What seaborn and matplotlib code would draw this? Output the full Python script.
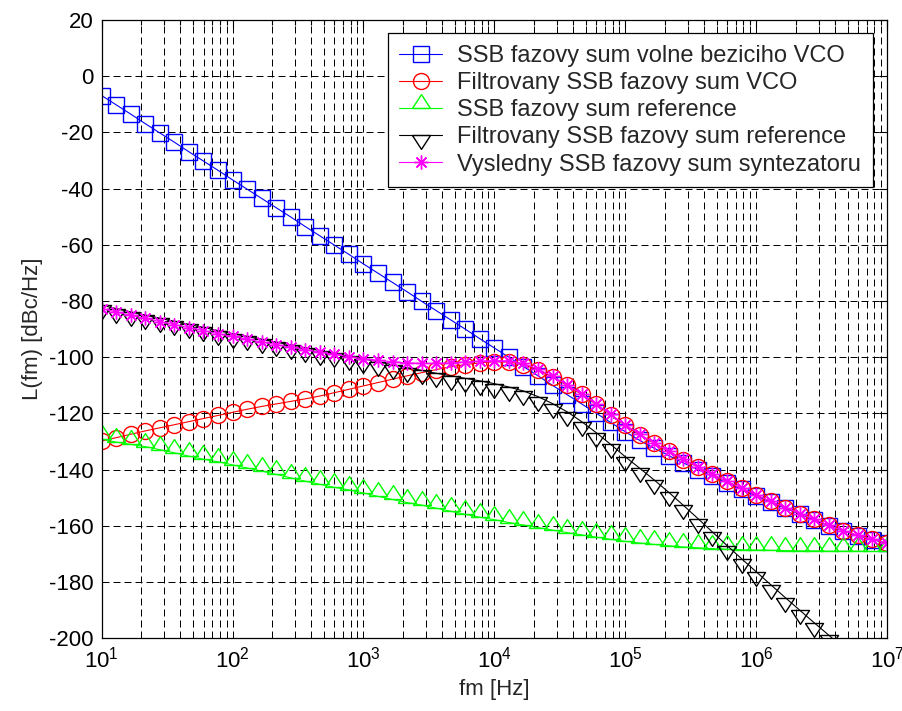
import matplotlib
matplotlib.use("Agg")
import matplotlib.pyplot as plt
import matplotlib.ticker as mticker
import seaborn as sns

# offset frequencies [Hz], 9 points per decade
freq_hz = [
    1.0000e1, 1.2915e1, 1.6681e1, 2.1544e1, 2.7826e1, 3.5938e1, 4.6416e1, 5.9948e1, 7.7426e1,
    1.0000e2, 1.2915e2, 1.6681e2, 2.1544e2, 2.7826e2, 3.5938e2, 4.6416e2, 5.9948e2, 7.7426e2,
    1.0000e3, 1.2915e3, 1.6681e3, 2.1544e3, 2.7826e3, 3.5938e3, 4.6416e3, 5.9948e3, 7.7426e3,
    1.0000e4, 1.2915e4, 1.6681e4, 2.1544e4, 2.7826e4, 3.5938e4, 4.6416e4, 5.9948e4, 7.7426e4,
    1.0000e5, 1.2915e5, 1.6681e5, 2.1544e5, 2.7826e5, 3.5938e5, 4.6416e5, 5.9948e5, 7.7426e5,
    1.0000e6, 1.2915e6, 1.6681e6, 2.1544e6, 2.7826e6, 3.5938e6, 4.6416e6, 5.9948e6, 7.7426e6,
    1.0000e7,
]

vco_free = [
    -6.9, -10.2, -13.5, -16.9, -20.2, -23.5, -26.9, -30.2, -33.5,
    -36.9, -40.2, -43.5, -46.8, -50.1, -53.5, -56.8, -60.1, -63.4,
    -66.8, -70.1, -73.4, -76.7, -80.1, -83.4, -86.7, -90.0, -93.4,
    -96.7, -100.0, -103.3, -106.6, -110.0, -113.3, -116.6, -119.9, -123.2,
    -126.5, -129.6, -132.4, -135.0, -137.6, -140.0, -142.4, -144.7, -147.0,
    -149.3, -151.5, -153.7, -155.8, -157.9, -159.9, -161.9, -163.5, -164.9,
    -166.2,
]

vco_filtered = [
    -129.8, -128.6, -127.4, -126.2, -125.1, -124.0, -122.9, -121.8, -120.7,
    -119.6, -118.5, -117.5, -116.6, -115.7, -114.8, -113.8, -112.6, -111.4,
    -110.2, -109.0, -107.8, -106.6, -105.5, -104.4, -103.4, -102.6, -102.0,
    -101.6, -101.7, -102.6, -104.5, -107.0, -110.0, -113.2, -116.8, -120.5,
    -124.2, -127.6, -130.6, -133.5, -136.4, -139.1, -141.7, -144.2, -146.6,
    -149.0, -151.3, -153.5, -155.6, -157.7, -159.8, -161.8, -163.4, -164.8,
    -166.1,
]

ref_noise = [
    -129.1, -130.2, -131.0, -131.8, -132.9, -134.0, -135.2, -136.3, -137.2,
    -138.3, -139.4, -140.5, -141.7, -142.9, -144.1, -145.2, -146.3, -147.2,
    -148.3, -149.5, -150.6, -151.7, -152.6, -153.7, -154.8, -155.9, -156.9,
    -157.8, -158.8, -159.7, -160.6, -161.5, -162.4, -163.2, -164.0, -164.8,
    -165.5, -166.1, -166.6, -167.1, -167.5, -167.8, -168.1, -168.3, -168.5,
    -168.6, -168.7, -168.8, -168.9, -168.9, -169.0, -169.0, -169.0, -169.1,
    -169.1,
]

# filtered reference runs out of the plot below -200 dBc/Hz
ref_filtered = [
    -81.5, -82.7, -83.9, -85.0, -86.1, -87.2, -88.3, -89.4, -90.5,
    -91.6, -92.6, -93.6, -94.6, -95.6, -96.6, -97.6, -98.6, -99.6,
    -100.5, -101.6, -102.7, -103.7, -104.7, -105.7, -106.6, -107.5, -108.4,
    -109.4, -110.6, -112.0, -114.0, -116.5, -119.4, -122.9, -126.8, -131.0,
    -135.4, -139.5, -143.7, -148.1, -152.7, -157.4, -162.2, -167.0, -171.7,
    -176.3, -180.9, -185.5, -190.0, -194.5, -198.9, -203.4,
]

synth_total = [
    -82.7, -83.9, -85.1, -86.2, -87.3, -88.4, -89.5, -90.5, -91.6,
    -92.6, -93.6, -94.6, -95.5, -96.4, -97.3, -98.2, -99.0, -99.8,
    -100.5, -101.1, -101.6, -102.0, -102.2, -102.2, -102.0, -101.7, -101.4,
    -101.2, -101.3, -102.2, -104.2, -106.8, -109.8, -113.0, -116.6, -120.3,
    -124.0, -127.4, -130.5, -133.4, -136.3, -139.0, -141.7, -144.2, -146.6,
    -149.0, -151.3, -153.5, -155.6, -157.7, -159.8, -161.8, -163.4, -164.8,
    -166.1,
]

labels = [
    "SSB fazovy sum volne beziciho VCO",
    "Filtrovany SSB fazovy sum VCO",
    "SSB fazovy sum reference",
    "Filtrovany SSB fazovy sum reference",
    "Vysledny SSB fazovy sum syntezatoru",
]

sns.set_style("white")
plt.rcParams["font.family"] = ["Liberation Sans", "DejaVu Sans"]
plt.rcParams["axes.unicode_minus"] = False
plt.rcParams["mathtext.fontset"] = "custom"
plt.rcParams["mathtext.rm"] = "Liberation Sans"

# matlab style triangles: base sits on the data point
tri_up = [(-0.65, 0), (0.65, 0), (0, 1), (-0.65, 0)]
tri_down = [(-0.65, 0), (0.65, 0), (0, -1), (-0.65, 0)]

fig = plt.figure(figsize=(9.02, 7.11), dpi=100)
ax = fig.add_axes([101.7 / 902, 1 - 638.3 / 711, 785.3 / 902, 618.3 / 711])

series = [
    (vco_free, "#0000ff", "s", 11.5),
    (vco_filtered, "#ff0000", "o", 11.5),
    (ref_noise, "#00ff00", tri_up, 20),
    (ref_filtered, "#000000", tri_down, 20),
    (synth_total, "#ff00ff", (8, 2, 0), 10),
]
for (vals, col, mk, ms), lab in zip(series, labels):
    sns.lineplot(x=freq_hz[:len(vals)], y=vals, ax=ax, color=col, lw=0.8,
                 marker=mk, markersize=ms, mfc="none", mec=col, mew=1.0,
                 errorbar=None, label=lab)

ax.set_xscale("log")
ax.set_xlim(10, 1e7)
ax.set_ylim(-200, 20)
ax.set_yticks(range(-200, 21, 20))
ax.xaxis.set_major_locator(mticker.LogLocator(base=10, numticks=10))
ax.xaxis.set_minor_locator(mticker.LogLocator(base=10, subs=range(2, 10), numticks=20))
ax.xaxis.set_minor_formatter(mticker.NullFormatter())

ax.set_axisbelow(True)
grid_kw = dict(color="black", lw=0.72, linestyle=(0, (7, 4)))
ax.grid(True, which="major", axis="both", **grid_kw)
ax.grid(True, which="minor", axis="x", **grid_kw)

for s in ax.spines.values():
    s.set_color("black")
    s.set_linewidth(0.9)
ax.tick_params(which="both", direction="in", top=True, right=True, colors="black",
               labelsize=16)
ax.tick_params(which="major", length=5.5, width=0.8, pad=6)
ax.tick_params(which="minor", length=3.5, width=0.8)

ax.set_xlabel("fm [Hz]", fontsize=16, labelpad=5)
ax.set_ylabel("L(fm) [dBc/Hz]", fontsize=16, labelpad=4)

leg = ax.legend(loc="upper right", bbox_to_anchor=(0.982, 0.979), borderaxespad=0,
                fontsize=17, frameon=True, fancybox=False, framealpha=1,
                edgecolor="black", handlelength=1.8, handletextpad=0.65,
                labelspacing=0.22, borderpad=0.5)
leg.get_frame().set_linewidth(0.9)

fig.savefig("out.png", dpi=100)
